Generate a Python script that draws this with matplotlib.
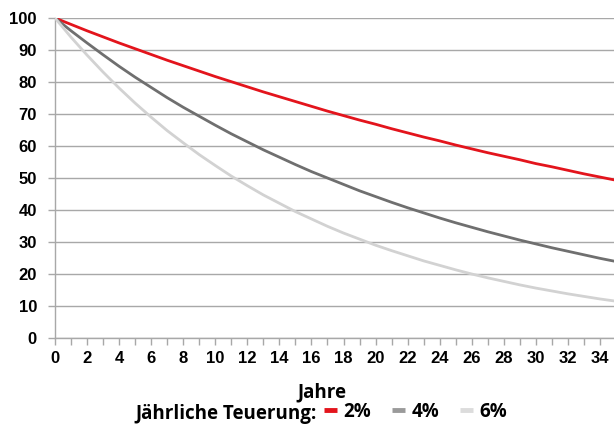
import matplotlib
matplotlib.use("Agg")
import matplotlib.pyplot as plt
from matplotlib.lines import Line2D

# Purchasing power of 100 units after n years of inflation
years = list(range(0, 36))
value_2pct = [100, 98.0, 96.0, 94.1, 92.2, 90.4, 88.6, 86.8, 85.1, 83.4,
              81.7, 80.1, 78.5, 76.9, 75.4, 73.9, 72.4, 70.9, 69.5, 68.1,
              66.8, 65.4, 64.1, 62.8, 61.6, 60.3, 59.1, 57.9, 56.8, 55.7,
              54.5, 53.5, 52.4, 51.3, 50.3, 49.3]
value_4pct = [100, 96.0, 92.2, 88.5, 84.9, 81.5, 78.3, 75.1, 72.1, 69.3,
              66.5, 63.8, 61.3, 58.8, 56.5, 54.2, 52.0, 50.0, 48.0, 46.0,
              44.2, 42.4, 40.7, 39.1, 37.5, 36.0, 34.6, 33.2, 31.9, 30.6,
              29.4, 28.2, 27.1, 26.0, 24.9, 23.9]
value_6pct = [100, 94.0, 88.4, 83.1, 78.1, 73.4, 69.0, 64.8, 61.0, 57.3,
              53.9, 50.6, 47.6, 44.7, 42.1, 39.5, 37.2, 34.9, 32.8, 30.9,
              29.0, 27.3, 25.7, 24.1, 22.7, 21.3, 20.0, 18.8, 17.7, 16.6,
              15.6, 14.7, 13.8, 13.0, 12.2, 11.5]
series_labels = ["2%", "4%", "6%"]
series_colors = ["#e3141c", "#6f6f6f", "#d2d2d2"]
legend_colors = ["#e3141c", "#9a9a9a", "#dcdcdc"]
x_ticks = list(range(0, 35, 2))
y_ticks = list(range(0, 101, 10))
x_title = "Jahre"
legend_title = "Jährliche Teuerung:"

W, H = 614, 425
fig = plt.figure(figsize=(W / 100, H / 100), dpi=100)
fig.patch.set_facecolor("white")

left, right, top, bottom = 55, 616, 18, 338
ax = fig.add_axes([left / W, 1 - bottom / H, (right - left) / W, (bottom - top) / H])

for vals, col in zip([value_2pct, value_4pct, value_6pct], series_colors):
    ax.plot(years, vals, color=col, lw=2.0, solid_capstyle="round", zorder=3)

ax.set_xlim(0, 35)
ax.set_ylim(0, 100)

grid_col = "#a8a8a8"
ax.set_yticks(y_ticks)
ax.set_xticks(x_ticks)
ax.set_xticks(years, minor=True)
ax.yaxis.grid(True, color=grid_col, lw=1.0)
ax.set_axisbelow(True)
for s in ["top", "right"]:
    ax.spines[s].set_visible(False)
for s in ["left", "bottom"]:
    ax.spines[s].set_color(grid_col)
    ax.spines[s].set_linewidth(1.0)

ax.tick_params(axis="y", direction="out", length=5, width=1, color=grid_col, pad=8)
ax.tick_params(axis="x", which="both", direction="out", length=5, width=1,
               color=grid_col, pad=4.5)

ax.set_yticklabels([str(v) for v in y_ticks])
ax.set_xticklabels([str(v) for v in x_ticks])
for lab in ax.get_xticklabels() + ax.get_yticklabels():
    lab.set_fontfamily("Liberation Sans")
    lab.set_fontweight("bold")
    lab.set_fontsize(12)

title_font = dict(family="Open Sans", weight="bold", size=13.5)
fig.text(322 / W, 1 - 397 / H, x_title, ha="center", va="baseline", **title_font)
fig.text(317 / W, 1 - 419 / H, legend_title, ha="right", va="baseline", **title_font)

handles = [Line2D([], [], color=c, lw=3.5, solid_capstyle="butt") for c in legend_colors]
fig.legend(handles, series_labels, loc="center left",
           bbox_to_anchor=(324 / W, 1 - 412 / H), ncol=3, frameon=False,
           handlelength=0.7, handletextpad=0.35, columnspacing=1.1,
           borderpad=0, borderaxespad=0,
           prop=dict(family="Open Sans", weight="bold", size=13.5))

fig.savefig("out.png", dpi=100, facecolor="white")
